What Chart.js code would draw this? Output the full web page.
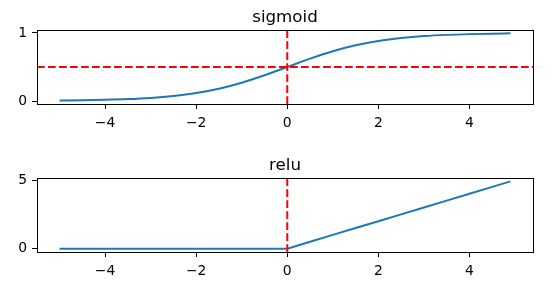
<!DOCTYPE html>
<html><head><meta charset="utf-8">
<script src="https://cdn.jsdelivr.net/npm/chart.js@4"></script>
<style>
html,body{margin:0;padding:0;background:#fff;}
#w{position:relative;width:560px;height:287px;background:#fff;}
canvas{position:absolute;left:0;}
</style></head><body>
<div id="w">
<canvas id="c1" width="560" height="140" style="top:0"></canvas>
<canvas id="c2" width="560" height="139" style="top:148px"></canvas>
</div>
<script>
// ---- data ----
const xValues       = [-5, -4.5, -4, -3.5, -3, -2.5, -2, -1.5, -1, -0.5, 0, 0.5, 1, 1.5, 2, 2.5, 3, 3.5, 4, 4.5, 4.9];
const sigmoidValues = [0.007, 0.011, 0.018, 0.029, 0.047, 0.076, 0.119, 0.182, 0.269, 0.378, 0.5, 0.622, 0.731, 0.818, 0.881, 0.924, 0.953, 0.971, 0.982, 0.989, 0.993];
const reluValues    = [0, 0, 0, 0, 0, 0, 0, 0, 0, 0, 0, 0.5, 1, 1.5, 2, 2.5, 3, 3.5, 4, 4.5, 4.9];
const xTickValues   = [-4, -2, 0, 2, 4];
const xTickLabels   = ['\u22124', '\u22122', '0', '2', '4'];
const sigmoidYTicks = [0, 1];
const sigmoidYLabels = ['0', '1'];
const reluYTicks    = [0, 5];
const reluYLabels   = ['0', '5'];
const sigmoidHLine  = 0.5;
const vLineX        = 0;
const titles        = ['sigmoid', 'relu'];

// ---- styling ----
const FONT = 'DejaVu Sans';
const BLUE = '#1f77b4';
const RED = '#ff0000';
const X_MIN = -5.495, X_MAX = 5.395;

const framePlugin = {
  id: 'frame',
  afterDatasetsDraw(chart) {
    const a = chart.chartArea, ctx = chart.ctx;
    ctx.save();
    ctx.strokeStyle = '#000';
    ctx.lineWidth = 1;
    const l = Math.floor(a.left) + 0.5, r = Math.floor(a.right) + 0.5;
    const t = Math.floor(a.top) + 0.5, b = Math.floor(a.bottom) + 0.5;
    ctx.strokeRect(l, t, r - l, b - t);
    ctx.restore();
  }
};

function makeChart(id, title, values, yMin, yMax, yTicks, yLabels, hLine, xAxisH, smooth) {
  const datasets = [];
  datasets.push({
    data: [{x: vLineX, y: yMin}, {x: vLineX, y: yMax}],
    borderColor: RED, borderWidth: 2, borderDash: [7.7, 3.3], pointRadius: 0, fill: false
  });
  if (hLine !== null) {
    datasets.push({
      data: [{x: X_MIN, y: hLine}, {x: X_MAX, y: hLine}],
      borderColor: RED, borderWidth: 2, borderDash: [7.7, 3.3], pointRadius: 0, fill: false
    });
  }
  const line = {
    data: xValues.map((x, i) => ({x: x, y: values[i]})),
    borderColor: BLUE, borderWidth: 2, pointRadius: 0, fill: false, tension: 0
  };
  if (smooth) line.cubicInterpolationMode = 'monotone';
  datasets.push(line);
  return new Chart(document.getElementById(id), {
    type: 'line',
    data: {datasets},
    plugins: [framePlugin],
    options: {
      responsive: false, animation: false, devicePixelRatio: 1,
      layout: {padding: {left: 0, right: 27, top: 0, bottom: 0}},
      plugins: {
        legend: {display: false}, tooltip: {enabled: false},
        title: {
          display: true, text: title, fullSize: false, color: '#000',
          font: {family: FONT, size: 16.7, weight: 'normal', lineHeight: 1.2},
          padding: {top: 8, bottom: 2}
        }
      },
      scales: {
        x: {
          type: 'linear', min: X_MIN, max: X_MAX,
          afterBuildTicks: s => { s.ticks = xTickValues.map(v => ({value: v})); },
          afterFit: s => { s.height = xAxisH; },
          border: {display: false},
          grid: {display: true, drawOnChartArea: false, drawTicks: true, tickLength: 5, tickColor: '#000', tickWidth: 1},
          ticks: {
            color: '#000', font: {family: FONT, size: 13.9}, padding: 6, maxRotation: 0,
            callback: v => { const i = xTickValues.indexOf(v); return i >= 0 ? xTickLabels[i] : ''; }
          }
        },
        y: {
          type: 'linear', min: yMin, max: yMax,
          afterBuildTicks: s => { s.ticks = yTicks.map(v => ({value: v})); },
          afterFit: s => { s.width = 37; },
          border: {display: false},
          grid: {display: true, drawOnChartArea: false, drawTicks: true, tickLength: 5, tickColor: '#000', tickWidth: 1},
          ticks: {
            color: '#000', font: {family: FONT, size: 13.9}, padding: 5,
            callback: v => { const i = yTicks.indexOf(v); return i >= 0 ? yLabels[i] : ''; }
          }
        }
      }
    }
  });
}

makeChart('c1', titles[0], sigmoidValues, -0.0426, 1.0419, sigmoidYTicks, sigmoidYLabels, sigmoidHLine, 36, true);
makeChart('c2', titles[1], reluValues, -0.245, 5.145, reluYTicks, reluYLabels, null, 35, false);
</script>
</body></html>
